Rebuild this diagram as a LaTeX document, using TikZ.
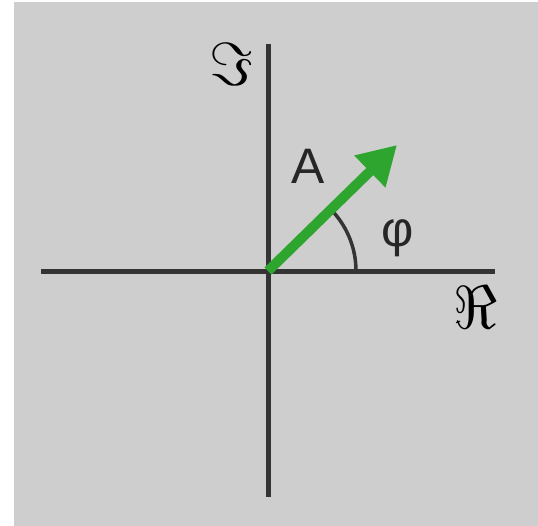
\documentclass[tikz,border=0pt]{standalone}
\usepackage{fontspec}
\usepackage{graphicx}
\newfontfamily\lsans{Liberation Sans}
\usetikzlibrary{arrows.meta}
\definecolor{bggray}{RGB}{206,206,206}
\definecolor{axisgray}{RGB}{52,52,52}
\definecolor{vecgreen}{RGB}{46,165,46}
\tikzset{
  axis/.style={draw=axisgray, line width=5bp},
  vector/.style={draw=vecgreen, line width=10bp, -{Triangle[length=38bp,width=42bp]}},
  anglearc/.style={draw=axisgray, line width=3.5bp},
  frak/.style={inner sep=0pt},
  lbl/.style={inner sep=0pt, font=\lsans\fontsize{50}{50}\selectfont, text=black!85}
}
\begin{document}
\begin{tikzpicture}[x=1bp,y=-1bp]
\useasboundingbox (0,0) rectangle (538,526);
\fill[bggray] (14,2) rectangle (538,526);
\coordinate (O) at (268,271);
\coordinate (L) at (41,271);
\coordinate (R) at (495,271);
\coordinate (T) at (268,44);
\coordinate (B) at (268,497);
\coordinate (tip) at (397,145);
\draw[axis] (L) -- (R);
\draw[axis] (T) -- (B);
\draw[anglearc] (356,271) arc[start angle=0, end angle=-42, radius=88];
\draw[vector] (O) -- (tip);
\node[frak] (im) at (231,64) {\scalebox{6.1}{$\Im$}};
\node[frak] (re) at (475,307) {\scalebox{6.1}{$\Re$}};
\node[lbl] (A) at (308,166) {A};
\node[lbl] (phi) at (398,238) {φ};
\end{tikzpicture}
\end{document}
